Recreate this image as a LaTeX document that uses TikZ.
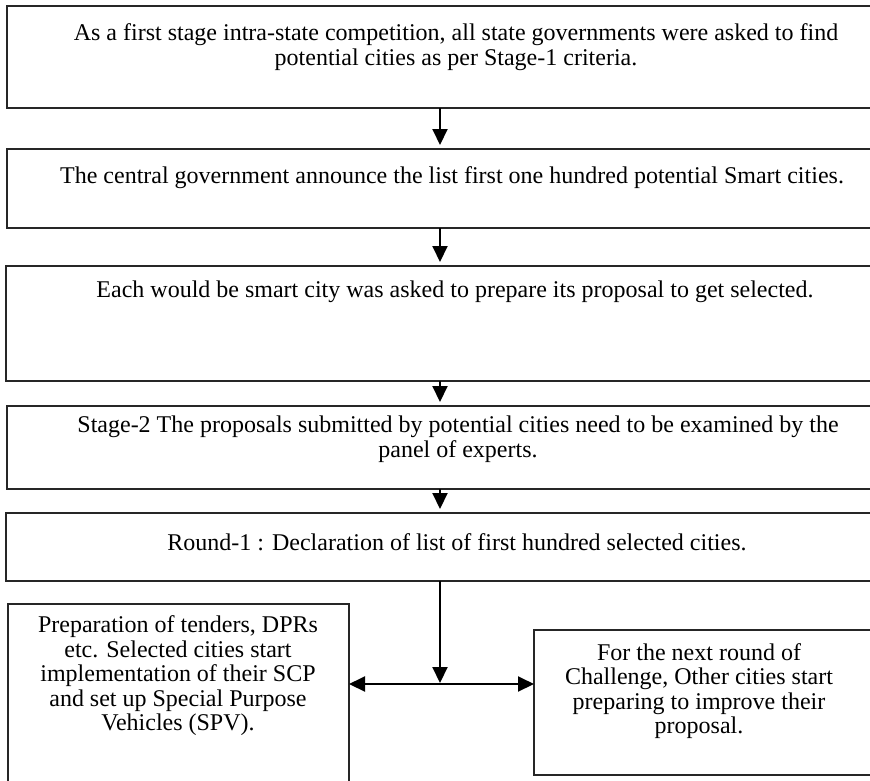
\documentclass[tikz,border=0pt]{standalone}
\usepackage{fontspec}
\setmainfont{Liberation Serif}
\usetikzlibrary{arrows.meta}
\begin{document}
\begin{tikzpicture}[x=1pt,y=-1pt,
  stagebox/.style={draw=black!85,line width=1.5pt,inner sep=0pt,outer sep=0pt,anchor=north west},
  txt/.style={inner sep=0pt,align=center,font=\fontsize{24}{24.5}\selectfont},
  tip/.style={Triangle[length=16pt,width=15pt]},
  flow/.style={line width=2pt,-{Triangle[length=16pt,width=15pt]},shorten >=4pt},
  split/.style={line width=2pt,{Triangle[length=16pt,width=15pt]}-{Triangle[length=16pt,width=15pt]}}]
\useasboundingbox (0,0) rectangle (870,780);
\clip (0,0) rectangle (870,780);

% stage boxes
\node[stagebox,minimum width=898pt,minimum height=102pt] (b1) at (7,6) {};
\node[stagebox,minimum width=898pt,minimum height=79pt] (b2) at (7,149) {};
\node[stagebox,minimum width=898pt,minimum height=115pt] (b3) at (6,266) {};
\node[stagebox,minimum width=898pt,minimum height=83pt] (b4) at (7,406) {};
\node[stagebox,minimum width=898pt,minimum height=68pt] (b5) at (6,513) {};
\node[stagebox,minimum width=341pt,minimum height=200pt] (bl) at (8,604) {};
\node[stagebox,minimum width=360pt,minimum height=145pt] (br) at (534,630) {};

% texts
\node[txt] (t1) at (456,47) {As a first stage intra-state competition, all state governments were asked to find\\potential cities as per Stage-1 criteria.};
\node[txt] (t2) at (452,178) {The central government announce the list first one hundred potential Smart cities.};
\node[txt] (t3) at (455,292) {Each would be smart city was asked to prepare its proposal to get selected.};
\node[txt] (t4) at (458,439) {Stage-2 The proposals submitted by potential cities need to be examined by the\\panel of experts.};
\node[txt] (t5) at (457,542) {Round-1 : Declaration of list of first hundred selected cities.};
\node[txt] (tl) at (178,676) {Preparation of tenders, DPRs\\etc. Selected cities start\\implementation of their SCP\\and set up Special Purpose\\Vehicles (SPV).};
\node[txt] (tr) at (699,691) {For the next round of\\Challenge, Other cities start\\preparing to improve their\\proposal.};

% connectors
\coordinate (ax) at (440,0);
\coordinate (j) at (440,684);
\draw[flow] (b1.south -| ax) -- (b2.north -| ax);
\draw[flow] (b2.south -| ax) -- (b3.north -| ax);
\draw[flow] (b3.south -| ax) -- (b4.north -| ax);
\draw[flow] (b4.south -| ax) -- (b5.north -| ax);
\draw[flow,shorten >=1pt] (b5.south -| ax) -- (j);
\draw[split] (bl.east |- j) -- (br.west |- j);
\end{tikzpicture}
\end{document}
